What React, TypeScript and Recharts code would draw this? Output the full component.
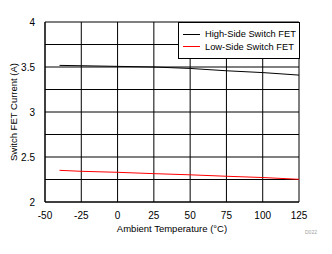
import { LineChart, Line, XAxis, YAxis, CartesianGrid } from "recharts"

const temps = [-40, -25, 0, 25, 50, 75, 100, 125]
const highSide = [3.518, 3.514, 3.507, 3.5, 3.484, 3.458, 3.438, 3.41]
const lowSide = [2.352, 2.341, 2.33, 2.315, 2.302, 2.286, 2.272, 2.252]

const xTicks = [-50, -25, 0, 25, 50, 75, 100, 125]
const yTicks = [2, 2.25, 2.5, 2.75, 3, 3.25, 3.5, 3.75, 4]

const seriesNames = ["High-Side Switch FET", "Low-Side Switch FET"]
const seriesColors = ["#000000", "#ff0000"]

const data = temps.map((t, i) => ({ t, high: highSide[i], low: lowSide[i] }))

const font = "'Liberation Sans', Arial, sans-serif"

// legend sits on top of the plot's upper-right corner, boxed
function LegendBox() {
  return (
    <div
      style={{
        position: "absolute",
        left: 178,
        top: 22,
        boxSizing: "border-box",
        width: 122,
        height: 37,
        border: "1px solid #000",
        background: "#fff",
        fontFamily: font,
        fontSize: 9.3,
        padding: "5px 0 0 4px",
        whiteSpace: "nowrap"
      }}
    >
      {seriesNames.map((name, i) => (
        <div key={name} style={{ display: "flex", alignItems: "center", height: 12.5 }}>
          <div style={{ width: 17, height: 1, background: seriesColors[i], marginRight: 5 }} />
          <span style={{ color: "#000" }}>{name}</span>
        </div>
      ))}
    </div>
  )
}

export default function App() {
  return (
    <div style={{ position: "absolute", left: 0, top: 0, width: 332, height: 254, background: "#fff" }}>
      <LineChart
        width={332}
        height={254}
        data={data}
        margin={{ top: 22, right: 33, left: 0, bottom: 0 }}
        style={{ fontFamily: font }}
      >
        <CartesianGrid stroke="#000" strokeWidth={1} />
        <XAxis
          dataKey="t"
          type="number"
          domain={[-50, 125]}
          ticks={xTicks}
          tickLine={false}
          axisLine={{ stroke: "#000" }}
          height={52}
          tick={{ fontSize: 10, fill: "#000" }}
          tickMargin={4}
          label={{ value: "Ambient Temperature (°C)", position: "insideBottom", offset: 22, fontSize: 9.5, fill: "#000" }}
        />
        <YAxis
          type="number"
          domain={[2, 4]}
          ticks={yTicks}
          tickFormatter={(v: number) => (Math.round(v * 2) === v * 2 ? String(v) : "")}
          tickLine={false}
          axisLine={{ stroke: "#000" }}
          width={45}
          tick={{ fontSize: 10, fill: "#000" }}
          tickMargin={4}
          label={{
            value: "Switch FET Current (A)",
            angle: -90,
            position: "insideLeft",
            offset: 14,
            style: { textAnchor: "middle" },
            fontSize: 9.5,
            fill: "#000"
          }}
        />
        <Line
          dataKey="high"
          name={seriesNames[0]}
          stroke={seriesColors[0]}
          strokeWidth={1}
          dot={false}
          isAnimationActive={false}
        />
        <Line
          dataKey="low"
          name={seriesNames[1]}
          stroke={seriesColors[1]}
          strokeWidth={1}
          dot={false}
          isAnimationActive={false}
        />
      </LineChart>
      <LegendBox />
      <span
        style={{
          position: "absolute",
          left: 305,
          top: 229,
          fontFamily: font,
          fontSize: 5,
          color: "#a0a0a0"
        }}
      >
        D022
      </span>
    </div>
  )
}
